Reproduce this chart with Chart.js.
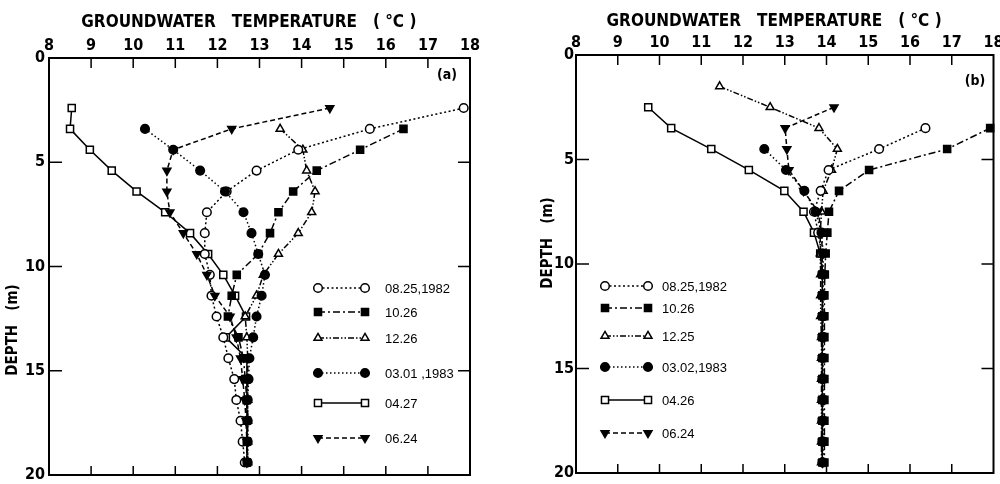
<!DOCTYPE html>
<html>
<head>
<meta charset="utf-8">
<script src="https://cdn.jsdelivr.net/npm/chart.js@4.4.1/dist/chart.umd.min.js"></script>
<style>
  html, body { margin: 0; padding: 0; background: #fff; }
  #wrap { position: relative; width: 1000px; height: 484px; overflow: hidden; }
  .panel { position: absolute; top: 0; height: 484px; }
</style>
</head>
<body>
<div id="wrap">
  <div class="panel" style="left:0;width:480px"><canvas id="chartA" width="480" height="484"></canvas></div>
  <div class="panel" style="left:500px;width:500px"><canvas id="chartB" width="500" height="484"></canvas></div>
</div>
<script>
// ---- data: depth (m) and groundwater temperature (°C) ----
const TEMP_TICKS = [8, 18];
const DEPTH_TICKS = [0, 20];

// (a)
const depthA = [2.4, 3.4, 4.4, 5.4, 6.4, 7.4, 8.4, 9.4, 10.4, 11.4, 12.4, 13.4, 14.4, 15.4, 16.4, 17.4, 18.4, 19.4];
const labelsA = ['08.25,1982', '10.26', '12.26', '03.01 ,1983', '04.27', '06.24'];
const a0825 = [17.85, 15.62, 13.92, 12.93, 12.22, 11.75, 11.70, 11.70, 11.82, 11.86, 11.98, 12.14, 12.26, 12.40, 12.45, 12.55, 12.60, 12.65];
const a1026 = [null, 16.42, 15.39, 14.36, 13.80, 13.45, 13.25, 12.97, 12.46, 12.34, 12.25, 12.50, 12.62, 12.66, 12.70, 12.70, 12.70, 12.70];
const a1226 = [null, 13.49, 14.03, 14.12, 14.32, 14.24, 13.92, 13.45, 13.09, 12.93, 12.66, 12.70, 12.72, 12.72, 12.72, 12.72, 12.72, 12.72];
const a0301 = [null, 10.28, 10.95, 11.59, 12.18, 12.62, 12.81, 12.97, 13.13, 13.05, 12.93, 12.85, 12.76, 12.74, 12.72, 12.72, 12.72, 12.72];
const a0427 = [8.54, 8.50, 8.97, 9.49, 10.08, 10.76, 11.35, 11.78, 12.14, 12.42, 12.68, 12.20, 12.70, 12.70, 12.70, 12.70, 12.70, 12.70];
const a0624 = [14.67, 12.34, 10.95, 10.80, 10.80, 10.87, 11.19, 11.51, 11.75, 11.94, 12.30, 12.45, 12.55, 12.60, 12.65, 12.68, 12.70, 12.70];

// (b)
const depthB = [1.5, 2.5, 3.5, 4.5, 5.5, 6.5, 7.5, 8.5, 9.5, 10.5, 11.5, 12.5, 13.5, 14.5, 15.5, 16.5, 17.5, 18.5, 19.5];
const labelsB = ['08.25,1982', '10.26', '12.25', '03.02,1983', '04.26', '06.24'];
const b0825 = [null, null, 16.37, 15.26, 14.05, 13.86, 13.70, 13.80, 13.88, 13.90, 13.90, 13.90, 13.90, 13.90, 13.90, 13.90, 13.90, 13.90, 13.90];
const b1026 = [null, null, 17.92, 16.89, 15.02, 14.30, 14.06, 14.02, 13.98, 13.96, 13.95, 13.95, 13.95, 13.95, 13.95, 13.95, 13.95, 13.95, 13.95];
const b1225 = [11.44, 12.65, 13.82, 14.26, 14.12, 13.92, 13.88, 13.85, 13.85, 13.86, 13.86, 13.86, 13.88, 13.88, 13.88, 13.88, 13.88, 13.88, 13.88];
const b0302 = [null, null, null, 12.51, 13.03, 13.47, 13.74, 13.88, 13.92, 13.92, 13.92, 13.92, 13.92, 13.92, 13.92, 13.92, 13.92, 13.92, 13.92];
const b0426 = [null, 9.73, 10.28, 11.24, 12.14, 12.99, 13.45, 13.70, 13.85, 13.90, 13.90, 13.90, 13.90, 13.90, 13.90, 13.90, 13.90, 13.90, 13.90];
const b0624 = [null, 14.18, 13.01, 13.05, 13.10, 13.45, 13.80, 13.88, 13.90, 13.90, 13.90, 13.90, 13.90, 13.90, 13.90, 13.90, 13.90, 13.90, 13.90];

// ---- styles (same order in both panels); lower "order" is drawn on top ----
const STYLES = [
  { pointStyle: 'circle',   fill: '#fff', radius: 4.3, dash: [2, 2.5], order: 2 },
  { pointStyle: 'rect',     fill: '#000', radius: 5,   dash: [7, 3, 2, 3], order: 1 },
  { pointStyle: 'triangle', fill: '#fff', radius: 4.6, dash: [6, 2, 1.5, 2, 1.5, 2], order: 2 },
  { pointStyle: 'circle',   fill: '#000', radius: 4.3, dash: [1.5, 2.5], order: 0 },
  { pointStyle: 'rect',     fill: '#fff', radius: 5,   dash: [], order: 3 },
  { pointStyle: 'triangle', fill: '#000', radius: 4.6, dash: [5, 3], rotation: 180, order: 1 }
];

const BOLD_FONT = "'Liberation Sans Narrow', 'DejaVu Sans Condensed', sans-serif";

function toPoints(depths, temps) {
  return depths.map((d, i) => ({ x: temps[i], y: d })).filter(p => p.x != null);
}

function makeDatasets(depths, series, labels) {
  return series.map((temps, i) => {
    const s = STYLES[i];
    return {
      label: labels[i],
      data: toPoints(depths, temps),
      order: s.order,
      showLine: true,
      borderColor: '#000',
      borderWidth: 1.5,
      borderDash: s.dash,
      pointStyle: s.pointStyle,
      pointRotation: s.rotation || 0,
      pointRadius: s.radius,
      pointBackgroundColor: s.fill,
      pointBorderColor: '#000',
      pointBorderWidth: 1.5,
      clip: false
    };
  });
}

// frame, inward ticks, y title, panel tag and legend
const framePlugin = {
  id: 'frame',
  beforeDatasetsDraw(chart) {
    const { ctx, chartArea: a, scales } = chart;
    ctx.save();
    ctx.strokeStyle = '#000';
    ctx.lineWidth = 2;
    ctx.strokeRect(a.left, a.top, a.right - a.left, a.bottom - a.top);
    ctx.lineWidth = 1.5;
    ctx.beginPath();
    scales.x.ticks.forEach(t => {
      if (t.value <= scales.x.min || t.value >= scales.x.max) return;
      const px = scales.x.getPixelForValue(t.value);
      ctx.moveTo(px, a.top); ctx.lineTo(px, a.top + 10);
      ctx.moveTo(px, a.bottom); ctx.lineTo(px, a.bottom - 9);
    });
    scales.y.ticks.forEach(t => {
      if (t.value <= scales.y.min || t.value >= scales.y.max) return;
      const py = scales.y.getPixelForValue(t.value);
      ctx.moveTo(a.left, py); ctx.lineTo(a.left + 13, py);
      ctx.moveTo(a.right, py); ctx.lineTo(a.right - 12, py);
    });
    ctx.stroke();
    ctx.restore();
  },
  afterDraw(chart, args, o) {
    const { ctx } = chart;
    ctx.save();
    ctx.fillStyle = '#000';
    // y title
    ctx.translate(o.yTitle[0], o.yTitle[1]);
    ctx.rotate(-Math.PI / 2);
    ctx.font = 'bold 15px ' + BOLD_FONT;
    ctx.textAlign = 'center';
    ctx.textBaseline = 'middle';
    ctx.fillText('DEPTH   (m)', 0, 0);
    ctx.restore();

    ctx.save();
    ctx.fillStyle = '#000';
    ctx.font = 'bold 14px ' + BOLD_FONT;
    ctx.textAlign = 'center';
    ctx.textBaseline = 'middle';
    ctx.fillText(o.tag[0], o.tag[1], o.tag[2]);

    // legend
    chart.data.datasets.forEach((ds, i) => {
      const y = o.rows[i];
      ctx.strokeStyle = '#000';
      ctx.lineWidth = ds.borderWidth;
      ctx.setLineDash(ds.borderDash);
      ctx.beginPath(); ctx.moveTo(o.x1, y); ctx.lineTo(o.x2, y); ctx.stroke();
      ctx.setLineDash([]);
      ctx.fillStyle = ds.pointBackgroundColor;
      ctx.lineWidth = ds.pointBorderWidth;
      const p = { pointStyle: ds.pointStyle, rotation: ds.pointRotation, radius: ds.pointRadius, borderWidth: ds.pointBorderWidth };
      Chart.helpers.drawPoint(ctx, p, o.x1, y);
      Chart.helpers.drawPoint(ctx, p, o.x2, y);
      ctx.fillStyle = '#000';
      ctx.font = "13px 'Liberation Sans', Arial, sans-serif";
      ctx.textAlign = 'left';
      ctx.fillText(ds.label, o.tx, y + 1);
    });
    ctx.restore();
  }
};

function makeChart(id, depths, series, labels, geom) {
  return new Chart(document.getElementById(id), {
    type: 'scatter',
    data: { datasets: makeDatasets(depths, series, labels) },
    options: {
      responsive: false,
      animation: false,
      layout: { padding: { top: 0, left: 0, right: geom.padRight, bottom: geom.padBottom } },
      plugins: {
        legend: { display: false },
        tooltip: { enabled: false },
        frame: geom.frame
      },
      scales: {
        x: {
          type: 'linear', position: 'top',
          min: TEMP_TICKS[0], max: TEMP_TICKS[1],
          grid: { display: false, drawTicks: false }, border: { display: false },
          ticks: { stepSize: 1, autoSkip: false, maxRotation: 0, color: '#000', padding: 3,
                   font: { family: BOLD_FONT, weight: 'bold', size: 16 } },
          title: { display: true, text: 'GROUNDWATER   TEMPERATURE   ( °C )    ', color: '#000',
                   font: { family: BOLD_FONT, weight: 'bold', size: 17 },
                   padding: { top: geom.titleTop, bottom: 0 } },
          afterFit(s) { s.height = geom.top; s.paddingLeft = 0; s.paddingRight = 0; }
        },
        y: {
          type: 'linear', reverse: true,
          min: DEPTH_TICKS[0], max: DEPTH_TICKS[1],
          grid: { display: false, drawTicks: false }, border: { display: false },
          ticks: { stepSize: 5, color: '#000', padding: geom.yPad,
                   font: { family: BOLD_FONT, weight: 'bold', size: 16 } },
          afterFit(s) { s.width = geom.left; s.paddingTop = 0; s.paddingBottom = 0; }
        }
      }
    },
    plugins: [framePlugin]
  });
}

makeChart('chartA', depthA, [a0825, a1026, a1226, a0301, a0427, a0624], labelsA, {
  left: 49, top: 58, padRight: 10, padBottom: 9, titleTop: 12, yPad: 4,
  frame: { yTitle: [13, 330], tag: ['(a)', 447, 75],
           rows: [288, 312, 338, 373, 403, 438], x1: 318, x2: 365, tx: 385 }
});

makeChart('chartB', depthB, [b0825, b1026, b1225, b0302, b0426, b0624], labelsB, {
  left: 76, top: 55, padRight: 5, padBottom: 11, titleTop: 11, yPad: 2,
  frame: { yTitle: [48, 243], tag: ['(b)', 475, 81],
           rows: [286, 308, 336, 367, 400, 433], x1: 105, x2: 148, tx: 162 }
});
</script>
</body>
</html>
